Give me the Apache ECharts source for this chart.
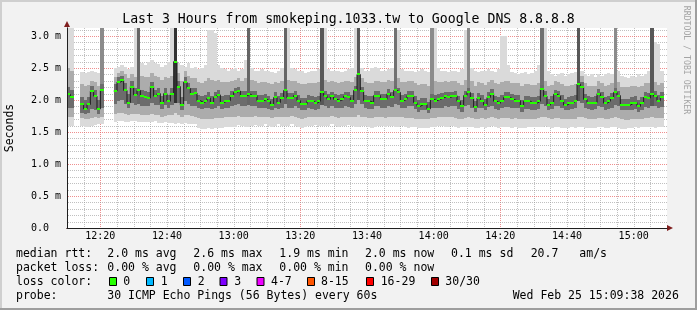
<!DOCTYPE html>
<html><head><meta charset="utf-8">
<script src="https://cdn.jsdelivr.net/npm/echarts@6/dist/echarts.min.js"></script>
<style>html,body{margin:0;padding:0;background:#f2f2f2}#c{width:697px;height:310px}</style>
</head><body><div id="c"></div>
<script>
// ---- data (one sample per minute, starting 12:10) ----
const START_MIN = 10; // minutes after 12:00
const median = [
 2.09,2.04,null,null,1.93,1.86,1.93,2.14,2.06,1.86,
 2.15,null,null,null,2.14,2.28,2.31,2.15,1.96,2.21,
 2.08,2.15,2.06,2.04,2.03,2.21,2.06,2.10,1.95,2.10,
 1.98,2.10,2.60,2.21,1.92,2.28,2.18,2.10,2.11,1.99,
 1.96,1.98,2.03,1.96,2.04,2.08,1.96,1.98,1.99,2.07,
 2.12,2.14,2.06,2.07,2.09,2.06,2.07,1.99,1.99,2.01,
 1.98,1.92,2.04,1.96,2.03,2.15,2.03,2.03,2.07,1.99,
 1.93,1.93,1.99,1.98,1.95,1.98,2.12,2.07,2.01,2.06,
 2.01,1.99,2.01,2.06,2.04,1.99,2.15,2.40,2.14,1.99,
 1.98,1.96,2.07,2.07,2.01,2.01,2.10,2.04,2.15,2.12,
 1.99,2.01,2.07,2.07,1.96,1.90,1.93,1.93,1.86,2.01,
 1.99,2.01,2.03,2.06,2.04,2.06,2.07,1.98,1.90,2.07,
 2.12,2.03,1.89,2.03,1.99,1.92,2.04,2.10,1.98,1.95,
 1.99,2.04,2.04,2.01,1.99,1.99,1.90,1.98,1.98,1.95,
 1.95,1.98,2.17,2.06,1.92,1.96,2.09,2.06,1.99,1.92,
 1.95,1.96,1.99,2.25,2.21,2.01,1.96,1.95,1.96,2.10,
 2.04,1.95,1.98,2.03,2.12,2.07,1.92,1.92,1.92,1.95,
 1.96,1.90,1.95,2.04,2.03,2.10,2.06,1.99,2.04,null];
// smoke envelope: lowest ping, lower band, core low, core high, upper band, highest ping
const smokeLo = [
 1.60,1.60,null,null,1.60,1.58,1.58,1.60,1.61,1.62,
 1.62,null,null,null,1.66,1.67,1.67,1.66,1.66,1.67,
 1.67,1.66,1.66,1.65,1.65,1.66,1.67,1.64,1.64,1.65,
 1.64,1.64,1.63,1.64,1.63,1.64,1.62,1.63,1.62,1.56,
 1.55,1.55,1.56,1.55,1.56,1.56,1.57,1.58,1.58,1.58,
 1.58,1.61,1.60,1.58,1.58,1.60,1.61,1.60,1.60,1.62,
 1.60,1.58,1.60,1.62,1.60,1.59,1.60,1.62,1.60,1.58,
 1.57,1.58,1.60,1.60,1.61,1.60,1.59,1.60,1.60,1.62,
 1.60,1.58,1.60,1.60,1.61,1.60,1.58,1.58,1.60,1.60,
 1.58,1.57,1.58,1.60,1.60,1.58,1.59,1.60,1.58,1.58,
 1.60,1.58,1.57,1.58,1.58,1.56,1.56,1.57,1.56,1.58,
 1.58,1.60,1.60,1.58,1.58,1.60,1.58,1.57,1.58,1.58,
 1.58,1.58,1.56,1.57,1.58,1.57,1.58,1.60,1.58,1.57,
 1.58,1.58,1.58,1.57,1.58,1.57,1.56,1.57,1.58,1.58,
 1.58,1.58,1.58,1.60,1.58,1.57,1.58,1.58,1.57,1.56,
 1.57,1.58,1.57,1.58,1.58,1.57,1.56,1.57,1.57,1.58,
 1.58,1.57,1.57,1.58,1.58,1.57,1.55,1.55,1.56,1.57,
 1.58,1.57,1.58,1.58,1.58,1.58,1.57,1.58,1.58,null];
const smokeQ1 = [
 1.74,1.74,null,null,1.72,1.70,1.70,1.72,1.73,1.72,
 1.74,null,null,null,1.78,1.80,1.80,1.78,1.76,1.78,
 1.78,1.78,1.77,1.76,1.76,1.78,1.77,1.76,1.74,1.75,
 1.76,1.76,1.80,1.76,1.74,1.76,1.76,1.75,1.74,1.72,
 1.70,1.70,1.71,1.70,1.72,1.72,1.72,1.73,1.73,1.74,
 1.74,1.75,1.74,1.73,1.74,1.74,1.75,1.73,1.73,1.74,
 1.73,1.72,1.74,1.74,1.74,1.74,1.74,1.75,1.74,1.72,
 1.71,1.72,1.73,1.73,1.74,1.73,1.74,1.74,1.74,1.75,
 1.74,1.72,1.74,1.74,1.74,1.73,1.74,1.76,1.74,1.73,
 1.72,1.72,1.73,1.74,1.73,1.72,1.73,1.74,1.74,1.73,
 1.73,1.72,1.72,1.72,1.71,1.70,1.70,1.71,1.70,1.72,
 1.72,1.73,1.74,1.73,1.73,1.74,1.72,1.71,1.71,1.72,
 1.73,1.72,1.70,1.71,1.72,1.71,1.72,1.73,1.72,1.71,
 1.72,1.72,1.72,1.71,1.72,1.71,1.70,1.71,1.71,1.71,
 1.71,1.72,1.73,1.74,1.72,1.71,1.72,1.72,1.71,1.70,
 1.70,1.71,1.71,1.74,1.74,1.72,1.70,1.70,1.71,1.72,
 1.72,1.70,1.71,1.72,1.73,1.72,1.70,1.69,1.69,1.70,
 1.71,1.70,1.71,1.72,1.72,1.73,1.72,1.72,1.72,null];
const smokeC1 = [
 1.88,1.88,null,null,1.80,1.78,1.80,1.86,1.84,1.78,
 1.88,null,null,null,1.94,1.98,2.00,1.94,1.88,1.95,
 1.92,1.94,1.90,1.90,1.90,1.96,1.92,1.92,1.86,1.92,
 1.88,1.92,1.95,1.96,1.84,1.98,1.94,1.90,1.90,1.88,
 1.86,1.87,1.88,1.86,1.88,1.90,1.86,1.87,1.88,1.90,
 1.92,1.94,1.90,1.90,1.92,1.90,1.90,1.87,1.87,1.88,
 1.86,1.84,1.88,1.86,1.88,1.94,1.88,1.88,1.90,1.87,
 1.84,1.84,1.87,1.86,1.85,1.86,1.92,1.90,1.88,1.90,
 1.88,1.87,1.88,1.90,1.89,1.87,1.93,2.00,1.93,1.87,
 1.86,1.86,1.90,1.90,1.88,1.88,1.91,1.89,1.93,1.92,
 1.87,1.88,1.90,1.90,1.86,1.82,1.84,1.84,1.80,1.88,
 1.87,1.88,1.88,1.90,1.89,1.90,1.90,1.86,1.82,1.90,
 1.92,1.88,1.82,1.88,1.87,1.84,1.89,1.91,1.86,1.85,
 1.87,1.89,1.89,1.88,1.87,1.87,1.82,1.86,1.86,1.85,
 1.85,1.86,1.94,1.90,1.84,1.86,1.91,1.90,1.87,1.84,
 1.85,1.86,1.87,1.98,1.96,1.88,1.86,1.85,1.86,1.91,
 1.89,1.85,1.86,1.88,1.92,1.90,1.84,1.84,1.84,1.85,
 1.86,1.82,1.85,1.89,1.88,1.91,1.90,1.87,1.89,null];
const smokeC2 = [
 2.20,2.15,null,null,2.05,2.00,2.05,2.22,2.15,2.00,
 2.25,null,null,null,2.25,2.36,2.38,2.26,2.10,2.30,
 2.18,2.25,2.15,2.14,2.13,2.28,2.15,2.18,2.06,2.18,
 2.08,2.18,2.70,2.30,2.05,2.36,2.26,2.18,2.18,2.08,
 2.06,2.08,2.12,2.06,2.12,2.16,2.06,2.08,2.08,2.14,
 2.18,2.20,2.14,2.14,2.16,2.14,2.14,2.08,2.08,2.10,
 2.07,2.02,2.12,2.06,2.11,2.22,2.11,2.11,2.14,2.08,
 2.03,2.03,2.08,2.07,2.05,2.07,2.19,2.14,2.10,2.13,
 2.10,2.08,2.10,2.13,2.12,2.08,2.22,2.46,2.21,2.08,
 2.07,2.06,2.14,2.14,2.10,2.10,2.17,2.12,2.22,2.19,
 2.08,2.10,2.14,2.14,2.06,2.00,2.03,2.03,1.97,2.10,
 2.08,2.10,2.11,2.13,2.12,2.13,2.14,2.07,2.00,2.14,
 2.19,2.11,1.99,2.11,2.08,2.02,2.12,2.17,2.07,2.05,
 2.08,2.12,2.12,2.10,2.08,2.08,2.00,2.07,2.07,2.05,
 2.05,2.07,2.24,2.14,2.02,2.06,2.16,2.14,2.08,2.02,
 2.05,2.06,2.08,2.32,2.28,2.10,2.06,2.05,2.06,2.17,
 2.12,2.05,2.07,2.11,2.19,2.14,2.02,2.02,2.02,2.05,
 2.06,2.00,2.05,2.12,2.11,2.17,2.14,2.08,2.12,null];
const smokeQ3 = [
 2.50,2.45,null,null,2.25,2.22,2.24,2.30,2.28,2.22,
 2.40,null,null,null,2.36,2.42,2.45,2.40,2.34,2.40,
 2.36,2.40,2.38,2.36,2.36,2.42,2.38,2.36,2.32,2.36,
 2.34,2.38,2.80,2.42,2.30,2.45,2.38,2.34,2.34,2.28,
 2.26,2.30,2.34,2.32,2.30,2.32,2.28,2.28,2.28,2.30,
 2.32,2.34,2.30,2.34,2.36,2.32,2.30,2.27,2.28,2.28,
 2.27,2.25,2.28,2.26,2.30,2.36,2.32,2.30,2.30,2.27,
 2.25,2.25,2.27,2.27,2.26,2.28,2.34,2.32,2.28,2.30,
 2.28,2.27,2.28,2.30,2.30,2.28,2.36,2.55,2.34,2.28,
 2.27,2.27,2.30,2.30,2.28,2.28,2.32,2.30,2.36,2.34,
 2.28,2.28,2.30,2.30,2.26,2.24,2.25,2.25,2.22,2.30,
 2.30,2.28,2.28,2.30,2.28,2.30,2.30,2.26,2.24,2.32,
 2.34,2.30,2.22,2.28,2.27,2.24,2.28,2.32,2.26,2.25,
 2.28,2.30,2.30,2.27,2.26,2.26,2.22,2.25,2.25,2.24,
 2.24,2.26,2.36,2.30,2.22,2.24,2.30,2.28,2.25,2.22,
 2.22,2.24,2.25,2.42,2.38,2.26,2.22,2.22,2.22,2.30,
 2.26,2.22,2.24,2.26,2.32,2.28,2.20,2.20,2.20,2.22,
 2.22,2.20,2.22,2.26,2.26,2.30,2.28,2.24,2.26,null];
const smokeHi = [
 3.20,3.20,null,null,2.44,2.42,2.44,2.45,2.43,2.42,
 2.50,null,null,null,2.50,2.52,2.55,2.52,2.48,2.52,
 3.20,2.55,2.58,2.55,2.60,2.62,2.58,2.56,2.52,2.55,
 2.60,3.20,2.62,2.58,2.55,2.52,2.58,2.50,2.52,2.48,
 2.50,2.55,3.10,3.10,3.05,2.55,2.50,2.48,2.45,2.48,
 2.50,2.46,2.48,2.62,2.55,2.50,2.46,2.45,2.48,2.46,
 2.45,2.44,2.42,2.46,2.50,2.55,3.20,2.50,2.48,2.46,
 2.45,2.42,2.44,2.46,2.45,2.48,2.55,3.20,2.48,2.46,
 2.45,2.46,2.44,2.45,2.48,2.50,3.20,2.55,2.50,2.46,
 2.46,2.50,2.52,2.50,2.46,2.45,2.48,2.50,2.55,3.10,
 2.48,2.46,2.45,2.46,2.44,2.45,2.48,2.45,2.44,2.50,
 3.20,2.50,2.46,2.45,2.44,2.46,2.45,2.44,2.48,3.10,
 2.55,2.50,2.46,2.44,2.45,2.46,2.48,2.45,2.44,2.48,
 3.00,3.00,2.55,2.44,2.42,2.40,2.42,2.44,2.40,2.42,
 2.45,2.55,2.55,3.20,2.45,2.40,2.38,2.40,2.42,2.38,
 2.40,2.42,2.44,2.50,2.45,2.40,2.38,2.40,2.36,2.40,
 2.38,2.40,2.42,2.40,2.50,2.45,2.38,2.36,2.35,2.38,
 2.36,2.40,2.38,2.40,2.45,2.50,2.90,2.88,2.45,null];
// samples where several pings went off the top of the graph, and how many of the 30
const spikeIdx  = [10, 21, 32, 54, 65, 76, 87, 98, 109, 120, 142, 153, 164, 175];
const spikeHigh = [ 8, 11, 15, 11, 11, 12, 12, 10,   8,   8,  10,  12,   8,  12];

const xTickMinutes = [20, 40, 60, 80, 100, 120, 140, 160, 180];
const xTickLabels  = ['12:20','12:40','13:00','13:20','13:40','14:00','14:20','14:40','15:00'];
const xMajorMinutes = [20, 80, 140];
const yTickValues  = [0, 0.5, 1.0, 1.5, 2.0, 2.5, 3.0];
const yTickLabels  = ['0.0  ','0.5 m','1.0 m','1.5 m','2.0 m','2.5 m','3.0 m'];
const X_MIN = 10, X_MAX = 190, Y_MAX = 3.125;
const X_MINOR = 5, Y_MINOR_STEPS = 10; // minor grid every 5 min and every 0.1 ms

const titleText = 'Last 3 Hours from smokeping.1033.tw to Google DNS 8.8.8.8';
const rttRow  = ['median rtt:', '2.0 ms avg', '2.6 ms max', '1.9 ms min', '2.0 ms now', '0.1 ms sd', '20.7', 'am/s'];
const lossRow = ['packet loss:', '0.00 % avg', '0.00 % max', '0.00 % min', '0.00 % now'];
const lossLabels = ['0', '1', '2', '3', '4-7', '8-15', '16-29', '30/30'];
const lossColors = ['#26ff00', '#00b8ff', '#0059ff', '#7e00ff', '#ee00ff', '#ff5500', '#ff0000', '#a10000'];
const probeRow = ['probe:', '30 ICMP Echo Pings (56 Bytes) every 60s', 'Wed Feb 25 15:09:38 2026'];

// ---- build ----
const FONT = "'DejaVu Sans Mono', monospace";
const spikeOf = {};
spikeIdx.forEach((k, i) => spikeOf[k] = spikeHigh[i]);
const smokeData = [], dashData = [], lineData = [];
for (let k = 0; k < median.length; k++) {
  const t = START_MIN + k;
  if (smokeLo[k] != null) {
    smokeData.push([t, smokeLo[k], smokeQ1[k], smokeC1[k], smokeC2[k], smokeQ3[k], smokeHi[k], spikeOf[k] || 0]);
  }
  lineData.push([t, median[k] == null ? null : median[k]]);
  if (median[k] != null) dashData.push([t, median[k]]);
}
// grid lines: [kind (0 vertical / 1 horizontal), value, major?]
const gridData = [];
for (let m = X_MIN + X_MINOR; m < X_MAX; m += X_MINOR) gridData.push([0, m, xMajorMinutes.indexOf(m) >= 0 ? 1 : 0]);
for (let i = 1; i / Y_MINOR_STEPS < Y_MAX; i++) {
  const v = i / Y_MINOR_STEPS;
  gridData.push([1, v, yTickValues.some(t => Math.abs(t - v) < 1e-9) ? 1 : 0]);
}

function smokeItem(params, api) {
  const t = api.value(0);
  const xa = Math.round(api.coord([t, 0])[0]);
  const xb = Math.round(api.coord([t + 1, 0])[0]);
  const Y = v => Math.round(api.coord([t, v])[1]);
  const kids = [];
  const band = (a, b, fill) => {
    const ya = Y(a), yb = Y(b);
    kids.push({type: 'rect', shape: {x: xa, y: yb, width: xb - xa, height: ya - yb}, style: {fill: fill}});
  };
  band(api.value(1), api.value(6), '#dadada');
  band(api.value(2), api.value(5), '#acacac');
  const n = api.value(7);
  let core = 0x6c;
  if (n > 0) {
    const g = Math.round(190 / 15 * (15 - n) + 50);
    band(api.value(3), 3.4, 'rgb(' + g + ',' + g + ',' + g + ')');
    core = Math.min(core, g);
  }
  band(api.value(3), api.value(4), 'rgb(' + core + ',' + core + ',' + core + ')');
  return {type: 'group', children: kids};
}
function dashItem(params, api) {
  const t = api.value(0), v = api.value(1);
  const xa = Math.round(api.coord([t, 0])[0]);
  const xb = Math.round(api.coord([t + 1, 0])[0]);
  const y = Math.round(api.coord([t, v])[1]);
  return {type: 'rect', shape: {x: xa, y: y - 1, width: xb - xa, height: 2}, style: {fill: '#26ff00'}};
}
const MGRID = 'rgba(232,96,96,0.7)';
const GRID = 'rgba(150,150,150,0.6)';
function gridItem(params, api) {
  const kind = api.value(0), v = api.value(1), major = api.value(2);
  const style = {stroke: major ? MGRID : GRID, lineWidth: 1, lineDash: [1, 1], fill: null};
  if (kind === 0) {
    const x = Math.round(api.coord([v, 0])[0]) + 0.5;
    const yb = Math.round(api.coord([v, 0])[1]);
    const yt = Math.round(api.coord([v, Y_MAX])[1]);
    return {type: 'line', shape: {x1: x, y1: yt, x2: x, y2: yb}, style: style};
  }
  const y = Math.round(api.coord([X_MIN, v])[1]) + 0.5;
  const xl = Math.round(api.coord([X_MIN, v])[0]) + 1;
  const xr = Math.round(api.coord([X_MAX, v])[0]);
  return {type: 'line', shape: {x1: xl, y1: y, x2: xr, y2: y}, style: style};
}
function fmtX(v) {
  const i = xTickMinutes.indexOf(Math.round(v));
  return (i >= 0 && Math.abs(v - xTickMinutes[i]) < 1e-6) ? xTickLabels[i] : '';
}
function fmtY(v) {
  for (let i = 0; i < yTickValues.length; i++) if (Math.abs(v - yTickValues[i]) < 1e-6) return yTickLabels[i];
  return '';
}

const graphics = [];
graphics.push({type: 'rect', shape: {x: 0, y: 0, width: 697, height: 2}, style: {fill: '#cfcfcf'}, silent: true});
graphics.push({type: 'rect', shape: {x: 0, y: 0, width: 2, height: 310}, style: {fill: '#cfcfcf'}, silent: true});
graphics.push({type: 'rect', shape: {x: 0, y: 308, width: 697, height: 2}, style: {fill: '#9e9e9e'}, silent: true});
graphics.push({type: 'rect', shape: {x: 695, y: 0, width: 2, height: 310}, style: {fill: '#9e9e9e'}, silent: true});
function txt(x, y, s, size, extra) {
  return {type: 'text', x: x, y: y, silent: true,
    style: Object.assign({text: s, font: size + 'px ' + FONT, fill: '#000', align: 'left', verticalAlign: 'middle'}, extra || {})};
}
graphics.push(txt(348.5, 19.4, titleText, 13.2, {align: 'center'}));
const seconds = txt(10, 128, 'Seconds', 11.5, {align: 'center'});
seconds.rotation = Math.PI / 2;
graphics.push(seconds);
const wm = txt(686, 60, 'RRDTOOL / TOBI OETIKER', 8.2, {align: 'center', fill: '#a4a4a4'});
wm.rotation = -Math.PI / 2;
graphics.push(wm);
const rttX = [16, 107.3, 193.3, 279.3, 365, 451, 530.7, 579.3];
rttRow.forEach((s, i) => graphics.push(txt(rttX[i], 253.7, s, 11.5)));
lossRow.forEach((s, i) => graphics.push(txt(rttX[i], 267.7, s, 11.5)));
graphics.push(txt(16, 281.7, 'loss color:', 11.5));
const boxX = [109, 146, 183, 219.5, 256.5, 307, 366, 431];
const lblX = [123.3, 160.7, 197.7, 234.3, 271, 321, 380.7, 445.3];
lossLabels.forEach((s, i) => {
  graphics.push({type: 'rect', silent: true, shape: {x: boxX[i] + 0.5, y: 277.5, width: 7, height: 8},
    style: {fill: lossColors[i], stroke: '#000', lineWidth: 1}});
  graphics.push(txt(lblX[i], 281.7, s, 11.5));
});
graphics.push(txt(16, 296, probeRow[0], 11.5));
graphics.push(txt(107.3, 296, probeRow[1], 11.5));
graphics.push(txt(512.7, 296, probeRow[2], 11.5));

const chart = echarts.init(document.getElementById('c'), null, {renderer: 'canvas', width: 697, height: 310});
chart.setOption({
  animation: false,
  backgroundColor: '#f2f2f2',
  grid: {left: 67, top: 28, width: 600, height: 200, show: true, backgroundColor: '#ffffff', borderWidth: 0, containLabel: false, outerBoundsMode: 'none'},
  xAxis: [{
    type: 'value', min: X_MIN, max: X_MAX, interval: 5, position: 'bottom', z: 14,
    axisLine: {show: true, onZero: false, lineStyle: {color: '#1f1f1f', width: 1}},
    axisTick: {show: false},
    axisLabel: {show: true, formatter: fmtX, color: '#000', fontFamily: FONT, fontSize: 10, margin: 3, showMaxLabel: false},
    splitLine: {show: false}
  }, {
    type: 'value', min: X_MIN, max: X_MAX, position: 'bottom', z: 13,
    axisLine: {show: true, onZero: false, lineStyle: {color: '#801f1f', width: 1}, symbol: ['none', 'triangle'], symbolSize: [6, 6], symbolOffset: [0, 3]},
    axisTick: {show: false}, axisLabel: {show: false}, splitLine: {show: false}
  }],
  yAxis: [{
    type: 'value', min: 0, max: Y_MAX, interval: 0.1, position: 'left', z: 14,
    axisLine: {show: true, onZero: false, lineStyle: {color: '#1f1f1f', width: 1}},
    axisTick: {show: false},
    axisLabel: {show: true, formatter: fmtY, color: '#000', fontFamily: FONT, fontSize: 10, margin: 6, showMaxLabel: false},
    splitLine: {show: false}
  }, {
    type: 'value', min: 0, max: Y_MAX, position: 'left', z: 13,
    axisLine: {show: true, onZero: false, lineStyle: {color: '#801f1f', width: 1}, symbol: ['none', 'triangle'], symbolSize: [6, 6], symbolOffset: [0, 4]},
    axisTick: {show: false}, axisLabel: {show: false}, splitLine: {show: false}
  }],
  series: [
    {type: 'custom', renderItem: gridItem, data: gridData, z: 1, silent: true, clip: false},
    {type: 'custom', renderItem: smokeItem, data: smokeData, clip: true, z: 2, silent: true},
    {type: 'line', data: lineData, step: 'end', symbol: 'none', connectNulls: false, z: 3, silent: true,
     lineStyle: {color: '#1c1c1c', width: 1}},
    {type: 'custom', renderItem: dashItem, data: dashData, clip: true, z: 4, silent: true}
  ],
  graphic: {elements: graphics}
});
</script>
</body></html>
